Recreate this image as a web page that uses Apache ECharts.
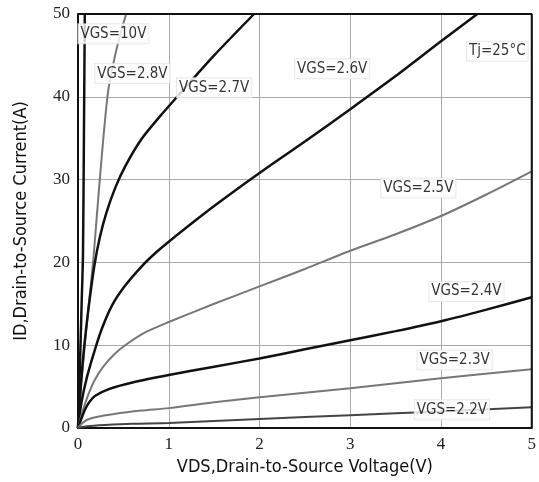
<!DOCTYPE html>
<html>
<head>
<meta charset="utf-8">
<script src="https://cdn.jsdelivr.net/npm/echarts@6/dist/echarts.min.js"></script>
<style>
  html, body { margin: 0; padding: 0; background: #fff; }
  #chart { width: 539px; height: 482px; }
</style>
</head>
<body>
<div id="chart"></div>
<script>
// curve points as [VDS, ID]
const vgs10 = [[0, 0], [0.02, 7], [0.04, 15], [0.055, 21], [0.065, 35], [0.075, 50]]
const vgs28 = [[0, 0], [0.03, 4.5], [0.07, 9.5], [0.12, 15], [0.17, 20.5], [0.24, 30], [0.33, 40.5], [0.43, 46], [0.53, 50]]
const vgs27 = [[0, 0], [0.03, 5], [0.07, 10], [0.12, 14.8], [0.18, 19.6], [0.24, 23], [0.31, 25.9], [0.41, 29], [0.52, 31.6], [0.7, 34.9], [0.9, 37.6], [1.1, 40.1], [1.5, 45], [1.94, 50]]
const vgs26 = [[0, 0], [0.04, 3.2], [0.1, 6.2], [0.19, 9.6], [0.27, 12.2], [0.38, 14.9], [0.52, 17.2], [0.7, 19.5], [0.85, 21.1], [1, 22.5], [1.5, 26.8], [2, 30.8], [2.5, 34.6], [3, 38.5], [3.5, 42.5], [4, 46.7], [4.4, 50]]
const vgs25 = [[0, 0], [0.04, 1.6], [0.08, 3], [0.12, 4.2], [0.18, 5.7], [0.27, 7.3], [0.4, 8.9], [0.52, 10], [0.75, 11.6], [1, 12.8], [1.5, 15], [2, 17.1], [2.5, 19.2], [3, 21.4], [3.5, 23.4], [4, 25.6], [4.5, 28.2], [5, 31]]
const vgs24 = [[0, 0], [0.04, 1.2], [0.08, 2.3], [0.13, 3.2], [0.19, 3.9], [0.34, 4.7], [0.6, 5.5], [1, 6.4], [1.5, 7.4], [2, 8.4], [2.5, 9.5], [3, 10.6], [3.5, 11.7], [4, 12.9], [4.5, 14.3], [5, 15.8]]
const vgs23 = [[0, 0], [0.05, 0.6], [0.1, 1], [0.19, 1.3], [0.4, 1.7], [0.7, 2.1], [1, 2.4], [1.5, 3.1], [2, 3.7], [3, 4.8], [4, 6], [5, 7.1]]
const vgs22 = [[0, 0], [0.1, 0.2], [0.3, 0.35], [0.6, 0.5], [1, 0.6], [2, 1.1], [3, 1.55], [4, 2.0], [5, 2.5]]

// label positions [VDS, ID, text]
const labels = [
  [0.39, 47.6, 'VGS=10V'],
  [0.6, 42.8, 'VGS=2.8V'],
  [1.5, 41.1, 'VGS=2.7V'],
  [2.8, 43.4, 'VGS=2.6V'],
  [4.62, 45.5, 'Tj=25°C'],
  [3.75, 29.0, 'VGS=2.5V'],
  [4.28, 16.5, 'VGS=2.4V'],
  [4.15, 8.2, 'VGS=2.3V'],
  [4.12, 2.2, 'VGS=2.2V']
]

const xTicks = [0, 1, 2, 3, 4, 5]
const yTicks = [0, 10, 20, 30, 40, 50]

const curve = (name, data, color, width) => ({
  name: name,
  type: 'line',
  data: data,
  showSymbol: false,
  smooth: 0.25,
  lineStyle: { color: color, width: width },
  z: 3
})

const chart = echarts.init(document.getElementById('chart'))
chart.setOption({
  animation: false,
  grid: { left: 78, right: 4, top: 14, bottom: 54 },
  xAxis: {
    type: 'value',
    min: xTicks[0],
    max: xTicks[xTicks.length - 1],
    interval: 1,
    name: 'VDS,Drain-to-Source Voltage(V)',
    nameLocation: 'middle',
    nameGap: 28,
    nameTextStyle: { fontFamily: 'DejaVu Sans Condensed', fontSize: 18, color: '#111' },
    axisLine: { show: true, lineStyle: { color: '#111', width: 2 } },
    axisTick: { show: false },
    axisLabel: { fontFamily: 'Liberation Serif', fontSize: 17, color: '#222', margin: 8 },
    splitLine: { show: true, lineStyle: { color: '#aaa', width: 1 } }
  },
  yAxis: {
    type: 'value',
    min: yTicks[0],
    max: yTicks[yTicks.length - 1],
    interval: 10,
    name: 'ID,Drain-to-Source Current(A)',
    nameLocation: 'middle',
    nameGap: 48,
    nameTextStyle: { fontFamily: 'DejaVu Sans Condensed', fontSize: 18, color: '#111' },
    axisLine: { show: true, lineStyle: { color: '#111', width: 2 } },
    axisTick: { show: false },
    axisLabel: { fontFamily: 'Liberation Serif', fontSize: 17, color: '#222', margin: 8 },
    splitLine: { show: true, lineStyle: { color: '#aaa', width: 1 } }
  },
  series: [
    curve('VGS=10V', vgs10, '#111', 2.5),
    curve('VGS=2.8V', vgs28, '#777', 2),
    curve('VGS=2.7V', vgs27, '#111', 2.5),
    curve('VGS=2.6V', vgs26, '#111', 2.5),
    curve('VGS=2.5V', vgs25, '#777', 2),
    curve('VGS=2.4V', vgs24, '#111', 2.5),
    curve('VGS=2.3V', vgs23, '#777', 2),
    curve('VGS=2.2V', vgs22, '#444', 2),
    {
      name: 'labels',
      type: 'scatter',
      symbolSize: 0,
      data: labels.map(l => ({ value: [l[0], l[1]], name: l[2] })),
      z: 10,
      label: {
        show: true,
        position: 'inside',
        formatter: p => p.name,
        fontFamily: 'DejaVu Sans Condensed',
        fontSize: 15,
        color: '#000',
        backgroundColor: '#fff',
        borderColor: '#e4e4e4',
        borderWidth: 1,
        padding: [2, 2]
      }
    },
    {
      name: 'frame',
      type: 'line',
      data: [[0, 50], [5, 50], [5, 0]],
      showSymbol: false,
      lineStyle: { color: '#111', width: 2 },
      z: 5
    }
  ]
})
</script>
</body>
</html>
